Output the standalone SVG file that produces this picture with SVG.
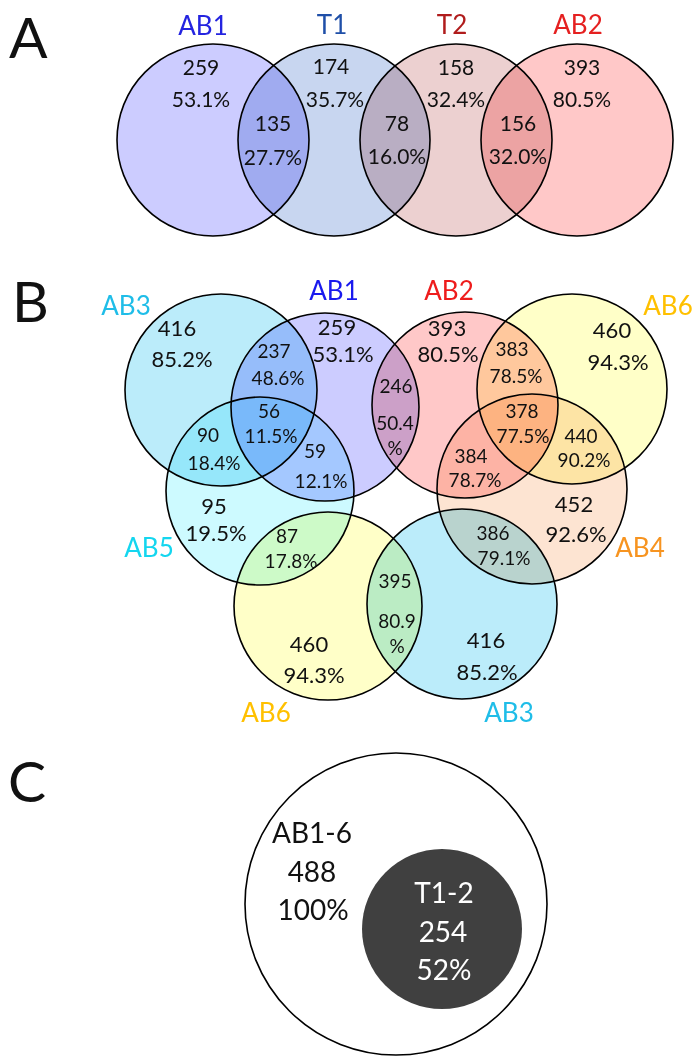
<svg xmlns="http://www.w3.org/2000/svg" width="700" height="1063" viewBox="0 0 700 1063">
<style>
.c{stroke:#000;stroke-width:1.6;mix-blend-mode:multiply}
text{font-family:Lato,"Open Sans","Liberation Sans",sans-serif;text-anchor:middle;fill:#111}
.p{font-size:57px;text-anchor:start}
.l{font-size:26px}
.n{font-size:21px}
.o{font-size:22px}
.i{font-size:19px}
.cc{font-size:28px}
.w{fill:#fff}
</style>
<rect width="700" height="1063" fill="#fff"/>
<g id="panel-labels">
<text class="p" x="9" y="58">A</text>
<text class="p" x="12" y="322">B</text>
<text class="p" x="8" y="802">C</text>
</g>
<g id="connectors"/>
<!-- Panel A -->
<g id="A-AB1"><circle class="c" cx="213" cy="140" r="96" fill="#ccccff"/><text class="l" x="203" y="35" style="fill:#2424e0">AB1</text></g>
<g id="A-T1"><circle class="c" cx="334" cy="140" r="96" fill="#c8d6f0"/><text class="l" x="332" y="34" style="fill:#1f4fa8">T1</text></g>
<g id="A-T2"><circle class="c" cx="456" cy="140" r="96" fill="#ecd0d0"/><text class="l" x="452" y="34" style="fill:#b01c1c">T2</text></g>
<g id="A-AB2"><circle class="c" cx="577" cy="140" r="96" fill="#ffc8c8"/><text class="l" x="578" y="34" style="fill:#e52020">AB2</text></g>
<g id="A-counts" class="n">
<text class="n" x="201" y="75">259</text><text class="n" x="201" y="107">53.1%</text>
<text class="n" x="273" y="131">135</text><text class="n" x="273" y="165">27.7%</text>
<text class="n" x="331" y="74">174</text><text class="n" x="335" y="107">35.7%</text>
<text class="n" x="397" y="131">78</text><text class="n" x="397" y="164">16.0%</text>
<text class="n" x="456" y="75">158</text><text class="n" x="456" y="107">32.4%</text>
<text class="n" x="518" y="131">156</text><text class="n" x="518" y="164">32.0%</text>
<text class="n" x="582" y="75">393</text><text class="n" x="582" y="107">80.5%</text>
</g>
<!-- Panel B -->
<g id="B-AB3-top"><circle class="c" cx="221" cy="390" r="96" fill="#bbecfa"/><text class="l" x="126" y="315" style="fill:#1fbde8">AB3</text></g>
<g id="B-AB1"><circle class="c" cx="325" cy="407" r="94" fill="#ccccff"/><text class="l" x="334" y="300" style="fill:#1a1aee">AB1</text></g>
<g id="B-AB2"><circle class="c" cx="465" cy="405" r="93" fill="#ffc8c8"/><text class="l" x="449" y="300" style="fill:#ee1c1c">AB2</text></g>
<g id="B-AB6-top"><circle class="c" cx="572" cy="389" r="95" fill="#ffffc8"/><text class="l" x="668" y="315" style="fill:#ffc000">AB6</text></g>
<g id="B-AB5"><circle class="c" cx="260" cy="491" r="94" fill="#cdfaff"/><text class="l" x="149" y="557" style="fill:#14d6ef">AB5</text></g>
<g id="B-AB4"><circle class="c" cx="532" cy="489" r="95" fill="#fde4d2"/><text class="l" x="640" y="557" style="fill:#f79420">AB4</text></g>
<g id="B-AB6-bottom"><circle class="c" cx="328" cy="606" r="94" fill="#ffffc8"/><text class="l" x="266" y="722" style="fill:#ffc000">AB6</text></g>
<g id="B-AB3-bottom"><circle class="c" cx="462" cy="604" r="95" fill="#bbecfa"/><text class="l" x="509" y="722" style="fill:#1fbde8">AB3</text></g>
<g id="B-counts">
<text class="o" x="177" y="336">416</text><text class="o" x="182" y="367">85.2%</text>
<text class="o" x="337" y="335">259</text><text class="o" x="343" y="362">53.1%</text>
<text class="o" x="447" y="336">393</text><text class="o" x="448" y="362">80.5%</text>
<text class="o" x="612" y="338">460</text><text class="o" x="618" y="370">94.3%</text>
<text class="o" x="214" y="514">95</text><text class="o" x="216" y="541">19.5%</text>
<text class="o" x="574" y="512">452</text><text class="o" x="576" y="542">92.6%</text>
<text class="o" x="309" y="652">460</text><text class="o" x="314" y="683">94.3%</text>
<text class="o" x="486" y="648">416</text><text class="o" x="487" y="680">85.2%</text>
<text class="i" x="274" y="358">237</text><text class="i" x="278" y="385">48.6%</text>
<text class="i" x="269" y="418">56</text><text class="i" x="271" y="443">11.5%</text>
<text class="i" x="208" y="442">90</text><text class="i" x="214" y="470">18.4%</text>
<text class="i" x="315" y="458">59</text><text class="i" x="321" y="488">12.1%</text>
<text class="i" x="287" y="543">87</text><text class="i" x="291" y="568">17.8%</text>
<text class="i" x="395" y="588">395</text><text class="i" x="397" y="628">80.9</text><text class="i" x="397" y="653">%</text>
<text class="i" x="493" y="540">386</text><text class="i" x="504" y="565">79.1%</text>
<text class="i" x="471" y="463">384</text><text class="i" x="475" y="487">78.7%</text>
<text class="i" x="396" y="393">246</text><text class="i" x="395" y="430">50.4</text><text class="i" x="395" y="455">%</text>
<text class="i" x="512" y="356">383</text><text class="i" x="516" y="383">78.5%</text>
<text class="i" x="522" y="418">378</text><text class="i" x="523" y="443">77.5%</text>
<text class="i" x="581" y="443">440</text><text class="i" x="584" y="467">90.2%</text>
</g>
<!-- Panel C -->
<g id="C-AB1-6"><circle cx="396" cy="904" r="151" fill="#fff" stroke="#000" stroke-width="1.6"/>
<text class="cc" x="312" y="843">AB1-6</text><text class="cc" x="312" y="882">488</text><text class="cc" x="313" y="920">100%</text></g>
<g id="C-T1-2"><circle cx="442" cy="929" r="80" fill="#404040"/>
<text class="cc w" x="444" y="903">T1-2</text><text class="cc w" x="443" y="942">254</text><text class="cc w" x="444" y="980">52%</text></g>
</svg>
